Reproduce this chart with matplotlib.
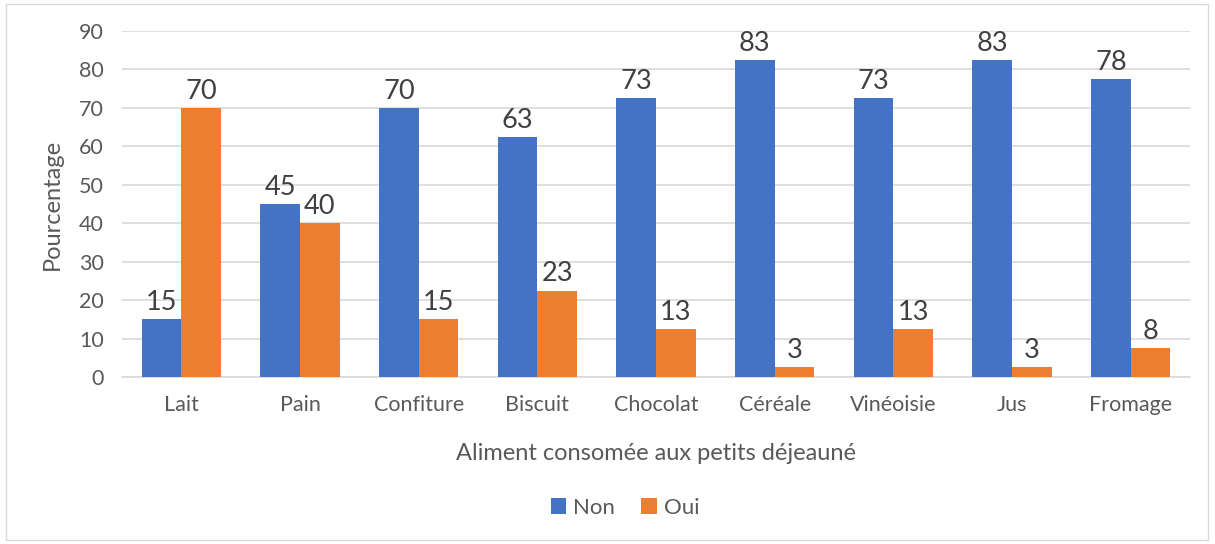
import numpy as np
import matplotlib.pyplot as plt
from matplotlib.patches import Rectangle

categories = ["Lait", "Pain", "Confiture", "Biscuit", "Chocolat", "Céréale", "Vinéoisie", "Jus", "Fromage"]
non = [15, 45, 70, 62.5, 72.5, 82.5, 72.5, 82.5, 77.5]
oui = [70, 40, 15, 22.5, 12.5, 2.5, 12.5, 2.5, 7.5]

blue = "#4472C4"
orange = "#ED7D31"
grey_txt = "#595959"

plt.rcParams['font.family'] = ['Lato', 'DejaVu Sans']

fig = plt.figure(figsize=(12.15, 5.44), dpi=100)
fig.patches.append(Rectangle((6 / 1215, 4 / 544), 1202 / 1215, 536 / 544, transform=fig.transFigure,
                             fill=False, edgecolor="#d9d9d9", linewidth=1))
ax = fig.add_axes([122 / 1215, 1 - 377 / 544, 1068 / 1215, 346 / 544])

x = np.arange(len(categories))
w = 1 / 3
b1 = ax.bar(x - w / 2, non, w, color=blue, label="Non", zorder=3)
b2 = ax.bar(x + w / 2, oui, w, color=orange, label="Oui", zorder=3)

for bars, vals in [(b1, non), (b2, oui)]:
    for r, v in zip(bars, vals):
        ax.annotate(str(int(v + 0.5)), (r.get_x() + r.get_width() / 2, v),
                    xytext=(0, 3), textcoords="offset points", ha="center", va="bottom",
                    fontsize=19.5, color="#404040")

ax.set_xlim(-0.5, len(categories) - 0.5)
ax.set_ylim(0, 90)
ax.set_yticks(np.arange(0, 91, 10))
ax.set_xticks(x)
ax.set_xticklabels(categories)
ax.grid(axis="y", color="#d9d9d9", linewidth=1.2, zorder=0)
for s in ["top", "right", "left"]:
    ax.spines[s].set_visible(False)
ax.spines["bottom"].set_color("#d9d9d9")
ax.spines["bottom"].set_linewidth(1.2)
ax.tick_params(axis="both", length=0, labelsize=15.5, labelcolor=grey_txt)
ax.tick_params(axis="y", pad=13)
ax.tick_params(axis="x", pad=13)
ax.set_xlabel("Aliment consomée aux petits déjeauné", fontsize=17, color=grey_txt, labelpad=20)
ax.set_ylabel("Pourcentage", fontsize=17, color=grey_txt, labelpad=12)

fig.legend(handles=[b1, b2], loc="center", bbox_to_anchor=(625 / 1215, 1 - 508 / 544), ncol=2,
           frameon=False, fontsize=16, labelcolor=grey_txt, handlelength=0.7, handleheight=0.7,
           handletextpad=0.3, columnspacing=1.2)

fig.savefig("out.png", dpi=100)
